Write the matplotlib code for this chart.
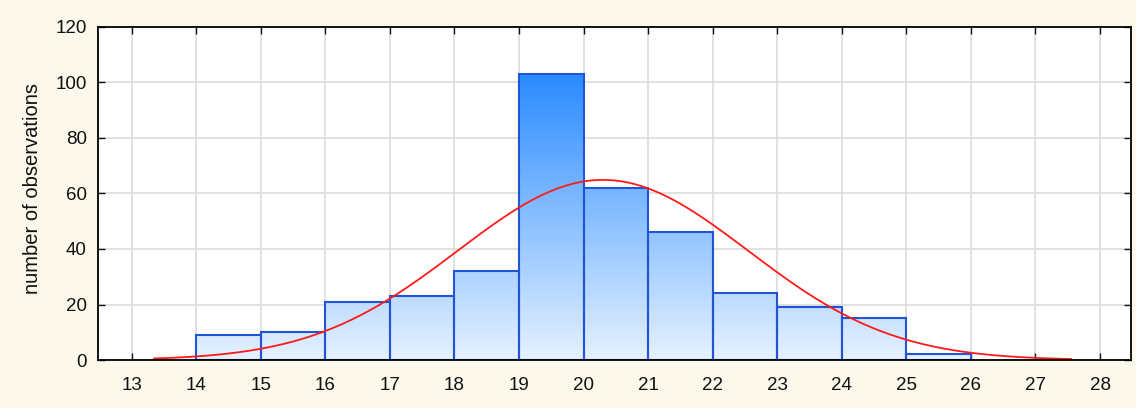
import numpy as np
import matplotlib
matplotlib.use("Agg")
import matplotlib.pyplot as plt
from matplotlib.colors import LinearSegmentedColormap
from matplotlib.patches import Rectangle

# ---- data ----
bin_left = [14, 15, 16, 17, 18, 19, 20, 21, 22, 23, 24, 25]
counts = [9, 10, 21, 23, 32, 103, 62, 46, 24, 19, 15, 2]
bin_width = 1.0
x_ticks = list(range(13, 29))
y_ticks = [0, 20, 40, 60, 80, 100, 120]
fit_mean = 20.3
fit_sd = 2.25
fit_range = (13.35, 27.55)
ylabel = "number of observations"

plt.rcParams['font.family'] = ['Liberation Sans', 'DejaVu Sans']

fig = plt.figure(figsize=(11.36, 4.08), dpi=100, facecolor='#fdf8ec')
ax = fig.add_axes([0.0863, 0.1176, 0.9093, 0.8164])
ax.set_facecolor('white')

ax.set_xlim(12.48, 28.48)
ax.set_ylim(0, 120)

cmap = LinearSegmentedColormap.from_list('g', ['#e6f2ff', '#2a8bff'])
grad = np.linspace(0, 1, 256).reshape(-1, 1)
top_val = max(counts)
for xl, c in zip(bin_left, counts):
    if c <= 0:
        continue
    rect = Rectangle((xl, 0), bin_width, c, facecolor='none',
                     edgecolor='#1f55d6', linewidth=1.5, zorder=3)
    ax.add_patch(rect)
    im = ax.imshow(grad, cmap=cmap, aspect='auto', origin='lower',
                   extent=(xl, xl + bin_width, 0, top_val), zorder=2,
                   interpolation='bilinear')
    im.set_clip_path(rect)

n_total = sum(counts)
xs = np.linspace(fit_range[0], fit_range[1], 400)
ys = n_total * bin_width / (fit_sd * np.sqrt(2 * np.pi)) * np.exp(-0.5 * ((xs - fit_mean) / fit_sd) ** 2)
ax.plot(xs, ys, color='#ff1a1a', linewidth=1.3, zorder=4)

ax.set_xticks(x_ticks)
ax.set_yticks(y_ticks)
ax.grid(True, color='#dcdcdc', linewidth=1.2, zorder=0)
ax.set_axisbelow(True)
ax.tick_params(direction='in', top=True, right=True, length=5, width=1,
               labelsize=13.5, colors='#111111')
ax.tick_params(axis='x', pad=12)
ax.tick_params(axis='y', pad=8)
for s in ax.spines.values():
    s.set_linewidth(1.3)
    s.set_color('black')
    s.set_zorder(5)

ax.set_ylabel(ylabel, fontsize=14.5, color='#111111')
ax.yaxis.set_label_coords(-0.054, 0.516)

fig.savefig('out.png', dpi=100, facecolor=fig.get_facecolor())
